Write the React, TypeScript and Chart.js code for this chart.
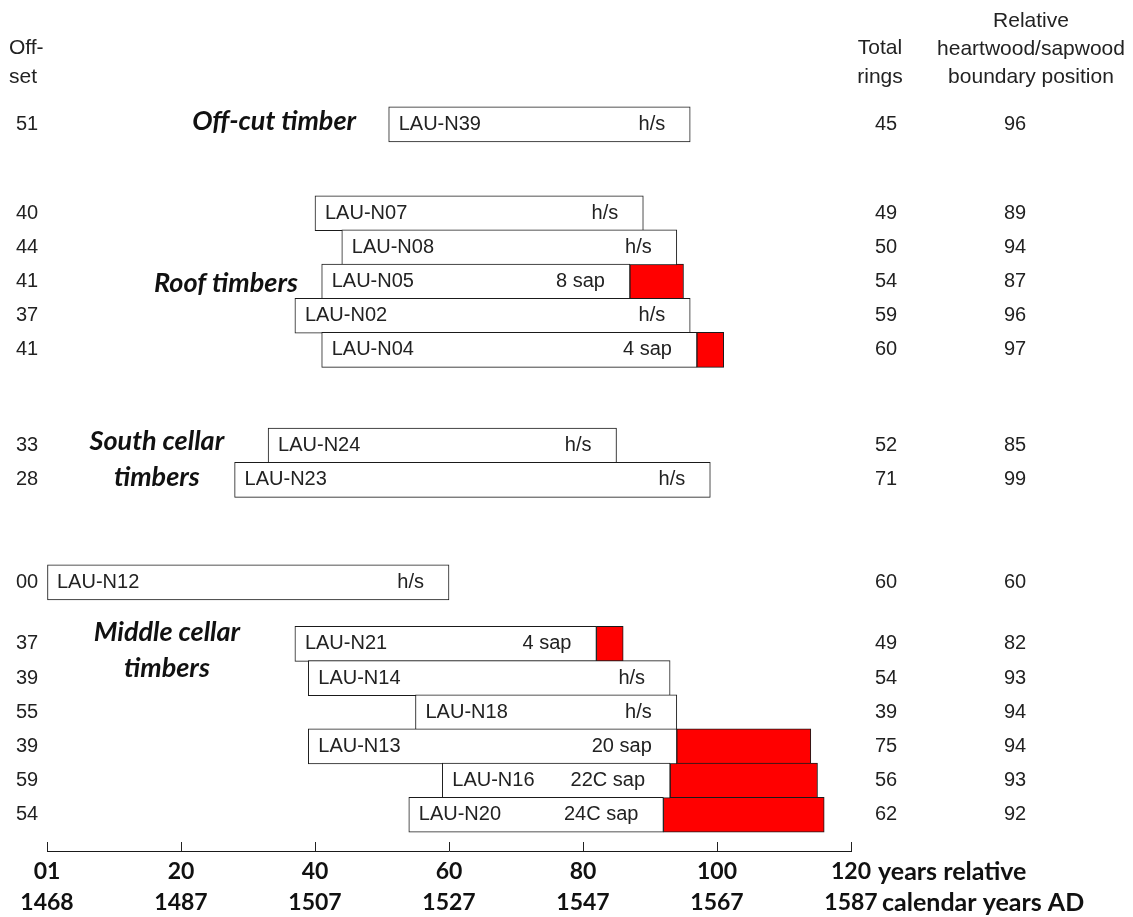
import React, { useEffect, useRef } from "react";
import { Chart, registerables } from "chart.js";

Chart.register(...registerables);

// ---- data ----
const sampleNames = [
  "LAU-N39", "LAU-N07", "LAU-N08", "LAU-N05", "LAU-N02", "LAU-N04",
  "LAU-N24", "LAU-N23", "LAU-N12", "LAU-N21", "LAU-N14", "LAU-N18",
  "LAU-N13", "LAU-N16", "LAU-N20",
];
const offsetLabels = ["51", "40", "44", "41", "37", "41", "33", "28", "00", "37", "39", "55", "39", "59", "54"];
const offsets = [51, 40, 44, 41, 37, 41, 33, 28, 0, 37, 39, 55, 39, 59, 54];
const totalRings = [45, 49, 50, 54, 59, 60, 52, 71, 60, 49, 54, 39, 75, 56, 62];
const hsBoundary = [96, 89, 94, 87, 96, 97, 85, 99, 60, 82, 93, 94, 94, 93, 92];
const sapNotes = ["h/s", "h/s", "h/s", "8 sap", "h/s", "4 sap", "h/s", "h/s", "h/s", "4 sap", "h/s", "h/s", "20 sap", "22C sap", "24C sap"];
// row position of each sample (in row units, top = 0)
const rowPositions = [0, 2.6, 3.6, 4.6, 5.6, 6.6, 9.4, 10.4, 13.4, 15.2, 16.2, 17.2, 18.2, 19.2, 20.2];

const groupTitles = [["Off-cut timber"], ["Roof timbers"], ["South cellar", "timbers"], ["Middle cellar", "timbers"]];
const groupCenterX = [33.9, 26.7, 16.4, 17.9];
const groupRow = [-0.08, 4.65, 9.27, 14.86];

const relTickLabels = ["01", "20", "40", "60", "80", "100", "120"];
const calTickLabels = ["1468", "1487", "1507", "1527", "1547", "1567", "1587"];

const TEXT = "#222";
const ARIAL = '"Liberation Sans", Arial, sans-serif';
const CAL = 'Lato, "Open Sans", sans-serif';

const labelPlugin = {
  id: "dendroLabels",
  afterDraw(chart: any) {
    const { ctx, chartArea } = chart;
    const x = chart.scales.x;
    const y = chart.scales.y;
    ctx.save();

    // upward tick marks
    ctx.strokeStyle = TEXT;
    ctx.lineWidth = 1;
    x.ticks.forEach((t: any) => {
      const px = Math.round(x.getPixelForValue(t.value)) + 0.5;
      ctx.beginPath();
      ctx.moveTo(px, chartArea.bottom - 9);
      ctx.lineTo(px, chartArea.bottom);
      ctx.stroke();
    });

    ctx.textBaseline = "middle";
    ctx.fillStyle = TEXT;

    // headers
    ctx.font = `21px ${ARIAL}`;
    ctx.textAlign = "left";
    ctx.fillText("Off-", 9, 48);
    ctx.fillText("set", 9, 77);
    ctx.textAlign = "center";
    ctx.fillText("Total", 880, 48);
    ctx.fillText("rings", 880, 77);
    ctx.fillText("Relative", 1031, 21);
    ctx.fillText("heartwood/sapwood", 1031, 49);
    ctx.fillText("boundary position", 1031, 77);

    // per-sample texts
    ctx.font = `20px ${ARIAL}`;
    sampleNames.forEach((name, i) => {
      const py = y.getPixelForValue(rowPositions[i]);
      ctx.textAlign = "center";
      ctx.fillText(offsetLabels[i], 27, py);
      ctx.fillText(String(totalRings[i]), 886, py);
      ctx.fillText(String(hsBoundary[i]), 1015, py);
      ctx.textAlign = "left";
      ctx.fillText(name, x.getPixelForValue(offsets[i]) + 10, py);
      ctx.textAlign = "right";
      ctx.fillText(sapNotes[i], x.getPixelForValue(hsBoundary[i]) - 25, py);
    });

    // group titles
    ctx.font = `italic bold 27px ${CAL}`;
    ctx.textAlign = "center";
    ctx.fillStyle = "#111";
    groupTitles.forEach((lines, g) => {
      const px = x.getPixelForValue(groupCenterX[g]);
      const py = y.getPixelForValue(groupRow[g]);
      lines.forEach((ln, k) => ctx.fillText(ln, px, py + k * 36));
    });

    // axis captions
    ctx.font = `bold 25px ${CAL}`;
    ctx.textAlign = "left";
    ctx.fillText("years relative", 878, chartArea.bottom + 5.5 + 15.5);
    ctx.fillText("calendar years AD", 882, chartArea.bottom + 5.5 + 31 + 15.5);

    ctx.restore();
  },
};

export default function App() {
  const canvasRef = useRef<HTMLCanvasElement | null>(null);

  useEffect(() => {
    let chart: Chart | null = null;
    let cancelled = false;

    const heartData = sampleNames.map((_, i) => ({ x: [offsets[i], hsBoundary[i]], y: rowPositions[i] }));
    const sapData = sampleNames
      .map((_, i) => ({ end: offsets[i] + totalRings[i], i }))
      .filter((d) => d.end > hsBoundary[d.i])
      .map((d) => ({ x: [hsBoundary[d.i], d.end], y: rowPositions[d.i] }));

    const build = () => {
      if (cancelled || !canvasRef.current) return;
      chart = new Chart(canvasRef.current, {
        type: "bar",
        data: {
          datasets: [
            {
              label: "heartwood",
              data: heartData as any,
              backgroundColor: "#ffffff",
              borderColor: "#1a1a1a",
              borderWidth: 1,
              borderSkipped: false,
              barThickness: 35,
              grouped: false,
            } as any,
            {
              label: "sapwood",
              data: sapData as any,
              backgroundColor: "#ff0000",
              borderColor: "#1a1a1a",
              borderWidth: 1,
              borderSkipped: false,
              barThickness: 35,
              grouped: false,
            } as any,
          ],
        },
        options: {
          animation: false,
          responsive: false,
          indexAxis: "y",
          layout: { padding: { left: 47, right: 282, top: 56, bottom: 0 } },
          plugins: { legend: { display: false }, tooltip: { enabled: false } },
          scales: {
            x: {
              type: "linear",
              position: "bottom",
              min: 0,
              max: 120,
              offset: false,
              ticks: {
                stepSize: 20,
                autoSkip: false,
                maxRotation: 0,
                padding: 5.5,
                color: "#111",
                font: { family: CAL, weight: "bold", size: 23, lineHeight: "31px" },
                callback: (_v: any, i: number) => [relTickLabels[i], calTickLabels[i]],
              },
              grid: { display: true, drawOnChartArea: false, drawTicks: false },
              border: { display: true, color: "#1a1a1a", width: 1 },
              afterFit: (s: any) => {
                s.height = 66;
              },
            },
            y: {
              type: "linear",
              display: false,
              reverse: true,
              offset: false,
              min: -2,
              max: 21.26,
            },
          },
        } as any,
        plugins: [labelPlugin],
      });
    };

    const fonts = (document as any).fonts;
    if (fonts && fonts.load) {
      Promise.all([
        fonts.load(`bold 25px Lato`),
        fonts.load(`italic bold 27px Lato`),
        fonts.load(`20px "Liberation Sans"`),
      ]).then(build, build);
    } else {
      build();
    }

    return () => {
      cancelled = true;
      if (chart) chart.destroy();
    };
  }, []);

  return (
    <div style={{ position: "fixed", left: 0, top: 0, width: 1133, height: 917, background: "#fff" }}>
      <canvas ref={canvasRef} width={1133} height={917} style={{ display: "block" }} />
    </div>
  );
}
